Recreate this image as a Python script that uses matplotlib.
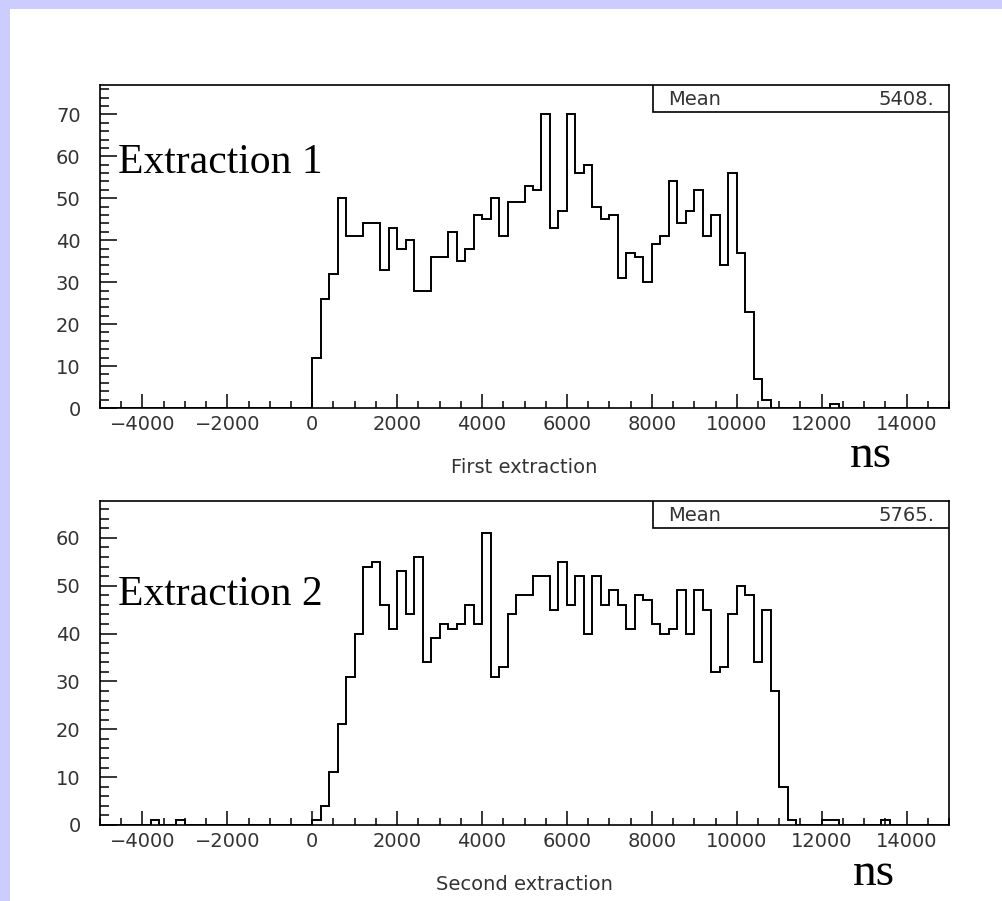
import numpy as np
import matplotlib
matplotlib.use('Agg')
import matplotlib.pyplot as plt
from matplotlib.patches import Rectangle
from matplotlib.ticker import MultipleLocator

# 100 bins of 200 ns from -5000 to 15000 (PAW style histograms)
BIN_EDGES = np.linspace(-5000, 15000, 101)

# counts, first bin starts at -5000
first_counts = ([0] * 25 +
                [12, 26, 32, 50, 41, 41, 44, 44, 33, 43, 38, 40, 28, 28, 36, 36, 42, 35, 38, 46,
                 45, 50, 41, 49, 49, 53, 52, 70, 43, 47, 70, 56, 58, 48, 45, 46, 31, 37, 36, 30,
                 39, 41, 54, 44, 47, 52, 41, 46, 34, 56, 37, 23, 7, 2] +
                [0, 0, 0, 0, 0, 0, 0, 1] + [0] * 13)

second_counts = ([0, 0, 0, 0, 0, 0, 1, 0, 0, 1] + [0] * 15 +
                 [1, 4, 11, 21, 31, 40, 54, 55, 46, 41, 53, 44, 56, 34, 39, 42, 41, 42, 46, 42,
                  61, 31, 33, 44, 48, 48, 52, 52, 45, 55, 46, 52, 40, 52, 46, 49, 46, 41, 48, 47,
                  42, 40, 41, 49, 40, 49, 45, 32, 33, 44, 50, 48, 34, 45, 28, 8, 1] +
                 [0, 0, 0, 1, 1, 0, 0, 0, 0, 0, 1] + [0] * 7)

first_mean = '5408.'
second_mean = '5765.'
titles = ['First extraction', 'Second extraction']
labels = ['Extraction 1', 'Extraction 2']

LAVENDER = '#ccccff'
SERIF = 'Liberation Serif'
SANS = 'DejaVu Sans'
SMALL = 14

fig = plt.figure(figsize=(10.02, 9.01), dpi=100, facecolor=LAVENDER)
fig.patches.append(Rectangle((10 / 1002, 0), 1, 1 - 9 / 901, transform=fig.transFigure,
                             facecolor='white', edgecolor='none', zorder=-5))


def draw_panel(rect, counts, ymax, mean_txt, xlabel, big_label, label_y):
    ax = fig.add_axes(rect)
    ax.set_zorder(2)
    ax.stairs(counts, BIN_EDGES, color='black', linewidth=1.4)
    ax.set_xlim(-5000, 15000)
    ax.set_ylim(0, ymax)
    ax.set_facecolor('white')
    for s in ax.spines.values():
        s.set_linewidth(1.2)
    ax.xaxis.set_major_locator(MultipleLocator(2000))
    ax.xaxis.set_minor_locator(MultipleLocator(500))
    ax.yaxis.set_major_locator(MultipleLocator(10))
    ax.yaxis.set_minor_locator(MultipleLocator(2))
    ax.tick_params(axis='x', which='major', direction='in', length=10, width=1.1, pad=5,
                   labelsize=SMALL)
    ax.tick_params(axis='x', which='minor', direction='in', length=5, width=1.1)
    ax.tick_params(axis='y', which='major', direction='in', length=12.5, width=1.1, pad=14,
                   labelsize=SMALL)
    ax.tick_params(axis='y', which='minor', direction='in', length=6.5, width=1.1)
    for lab in ax.get_xticklabels() + ax.get_yticklabels():
        lab.set_family(SANS)
        lab.set_color('#333333')
    ax.set_xlabel(xlabel, fontsize=SMALL, family=SANS, labelpad=17, color='#333333')

    # statistics box in the top right corner
    ax.add_patch(Rectangle((0.651, 0.916), 0.349, 0.084, transform=ax.transAxes,
                           facecolor='white', edgecolor='black', linewidth=1.2, zorder=5))
    ax.text(0.669, 0.955, 'Mean', transform=ax.transAxes, fontsize=SMALL, family=SANS,
            va='center', ha='left', zorder=6, color='#333333')
    ax.text(0.983, 0.955, mean_txt, transform=ax.transAxes, fontsize=SMALL, family=SANS,
            va='center', ha='right', zorder=6, color='#333333')

    ax.text(0.021, label_y, big_label, transform=ax.transAxes, fontsize=30, family=SERIF,
            va='baseline', ha='left')
    return ax


ax1 = draw_panel([100 / 1002, 1 - 408 / 901, 849 / 1002, 323 / 901], first_counts, 77,
                 first_mean, titles[0], labels[0], 0.7276)
ax2 = draw_panel([100 / 1002, 1 - 825 / 901, 849 / 1002, 324 / 901], second_counts, 67.7,
                 second_mean, titles[1], labels[1], 0.679)

fig.text(850 / 1002, 1 - 467 / 901, 'ns', fontsize=34, family=SERIF, va='baseline', ha='left',
         zorder=3)
fig.text(853 / 1002, 1 - 885 / 901, 'ns', fontsize=34, family=SERIF, va='baseline', ha='left',
         zorder=3)

fig.savefig('out.png', dpi=100, facecolor=LAVENDER)
